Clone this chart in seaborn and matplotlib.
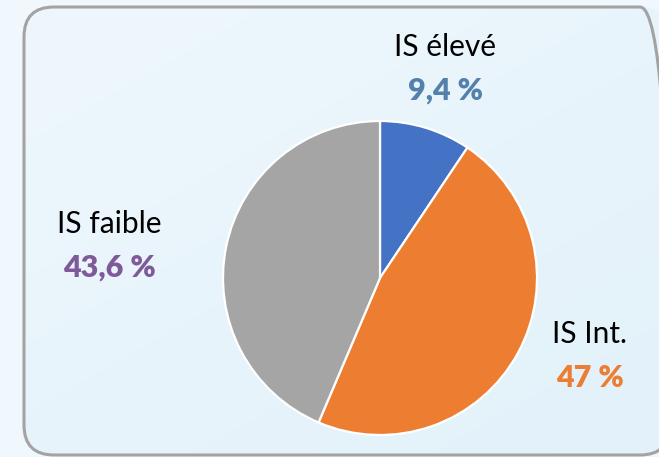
import matplotlib
matplotlib.use("Agg")
import matplotlib.pyplot as plt
from matplotlib.patches import FancyBboxPatch
import numpy as np
import seaborn as sns

categories = ["IS élevé", "IS Int.", "IS faible"]
shares = [9.4, 47.0, 43.6]
value_labels = ["9,4 %", "47 %", "43,6 %"]

slice_colors = ["#4472C4", "#ED7D31", "#A5A5A5"]
label_colors = ["#5381AC", "#ED7D31", "#7F5A9A"]

sns.set_theme(style="white")
plt.rcParams["font.family"] = ["Lato", "DejaVu Sans"]

W, H = 659, 457
fig = plt.figure(figsize=(W / 100, H / 100), dpi=100, facecolor="#F0F8FD")
ax = fig.add_axes([0, 0, 1, 1])
ax.set_xlim(0, W)
ax.set_ylim(0, H)
ax.set_aspect("equal")
ax.axis("off")


def py(y):
    return H - y


# rounded panel with a soft top-left to bottom-right gradient
x0, x1, y0, y1 = 24, 670, 7, 455
panel = FancyBboxPatch((x0, py(y1)), x1 - x0, y1 - y0,
                       boxstyle="round,pad=0,rounding_size=30",
                       facecolor="none", edgecolor="#A3A3A3", linewidth=2.2, zorder=3)
ax.add_patch(panel)
gx, gy = np.meshgrid(np.linspace(0, 1, 200), np.linspace(0, 1, 200))
t = np.clip(0.45 * gx + 0.55 * gy, 0, 1)
top = np.array([0xEE, 0xF7, 0xFD]) / 255
bot = np.array([0xE2, 0xF1, 0xFA]) / 255
grad = top[None, None, :] * (1 - t[..., None]) + bot[None, None, :] * t[..., None]
img = ax.imshow(grad, extent=(x0, x1, py(y1), py(y0)), origin="upper",
                aspect="auto", zorder=0, interpolation="bilinear")
img.set_clip_path(panel)

ax.pie(shares, colors=slice_colors, startangle=90, counterclock=False,
       center=(380, py(278)), radius=157, frame=True,
       wedgeprops=dict(edgecolor="white", linewidth=1.6, zorder=2))
ax.set_xlim(0, W)
ax.set_ylim(0, H)
ax.axis("off")

# (x centre, baseline of category, baseline of value)
label_pos = [(445, 56, 100), (590, 343, 387), (109, 233, 277)]
for cat, val, col, (x, yc, yv) in zip(categories, value_labels, label_colors, label_pos):
    ax.text(x, py(yc), cat, ha="center", va="baseline", fontsize=21.5,
            color="black", zorder=4)
    ax.text(x, py(yv), val, ha="center", va="baseline", fontsize=22,
            fontweight="heavy", color=col, zorder=4)

fig.savefig("out.png", dpi=100, facecolor=fig.get_facecolor())
